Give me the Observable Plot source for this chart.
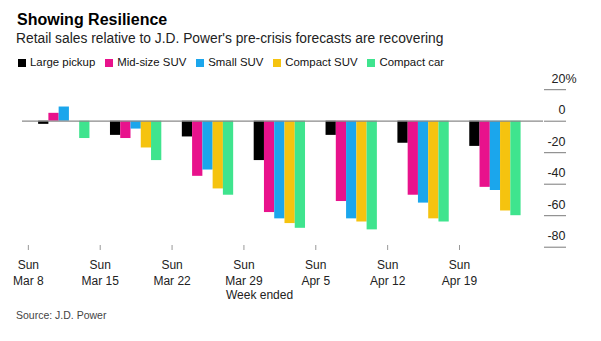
<!DOCTYPE html>
<html>
<head>
<meta charset="utf-8">
<script src="https://cdn.jsdelivr.net/npm/d3@7"></script>
<script src="https://cdn.jsdelivr.net/npm/@observablehq/plot@0.6"></script>
<style>
  html, body { margin: 0; padding: 0; background: #fff; }
  body { width: 601px; height: 341px; position: relative; overflow: hidden; font-family: "Liberation Sans", Arial, sans-serif; }
  #title { position: absolute; left: 17px; top: 12px; font-size: 16px; font-weight: bold; line-height: 1; color: #000; }
  #subtitle { position: absolute; left: 16px; top: 32px; font-size: 13.8px; line-height: 1; color: #222; }
  #legend { position: absolute; left: 18px; top: 57px; display: flex; gap: 10px; font-size: 11.4px; line-height: 1; color: #111; }
  #legend .item { display: flex; align-items: center; }
  #legend .sw { width: 8px; height: 8px; margin-right: 4px; display: inline-block; }
  #chart { position: absolute; left: 0; top: 72px; }
  #source { position: absolute; left: 16px; top: 310px; font-size: 10.5px; line-height: 1; color: #444; }
</style>
</head>
<body>
<div id="title">Showing Resilience</div>
<div id="subtitle">Retail sales relative to J.D. Power's pre-crisis forecasts are recovering</div>
<div id="legend"></div>
<div id="chart"></div>
<div id="source">Source: J.D. Power</div>
<script>
// ---- data ----
const weeks = ["2020-03-08", "2020-03-15", "2020-03-22", "2020-03-29", "2020-04-05", "2020-04-12", "2020-04-19"];
const seriesNames = ["Large pickup", "Mid-size SUV", "Small SUV", "Compact SUV", "Compact car"];
const seriesColors = ["#000000", "#e8128c", "#1ba6ec", "#f5c30f", "#3fe48e"];
const largePickup = [-2, -9, -10, -25, -9, -14, -16];
const midSizeSUV  = [5, -11, -35, -58, -51, -47, -42];
const smallSUV    = [9, -5, -31, -62, -62, -52, -44];
const compactSUV  = [0, -17, -43, -65, -64, -62, -57];
const compactCar  = [-11, -25, -47, -68, -69, -64, -60];
const yTicks = [-80, -60, -40, -20, 0, 20];
const xLabel = "Week ended";

const seriesValues = [largePickup, midSizeSUV, smallSUV, compactSUV, compactCar];
const weekDates = weeks.map(d => new Date(d + "T00:00:00Z"));
const DAY = 864e5;

const rows = [];
seriesNames.forEach((name, k) => {
  weekDates.forEach((date, i) => {
    rows.push({
      series: name,
      value: seriesValues[k][i],
      start: new Date(+date + (1 + k) * DAY),
      end: new Date(+date + (2 + k) * DAY)
    });
  });
});

// legend
const legend = document.getElementById("legend");
seriesNames.forEach((name, k) => {
  const item = document.createElement("span");
  item.className = "item";
  const sw = document.createElement("span");
  sw.className = "sw";
  sw.style.background = seriesColors[k];
  item.appendChild(sw);
  item.appendChild(document.createTextNode(name));
  legend.appendChild(item);
});

const chart = Plot.plot({
  width: 601,
  height: 232,
  marginLeft: 22,
  marginRight: 58,
  marginTop: 10,
  marginBottom: 59,
  style: { fontFamily: "Liberation Sans, Arial, sans-serif", fontSize: "12px", color: "#222", background: "#fff" },
  x: { type: "utc", domain: [weekDates[0], weekDates[weekDates.length - 1]], range: [27.85, 459] },
  y: { domain: [-80, 20], range: [174.7, 17.2] },
  color: { domain: seriesNames, range: seriesColors },
  marks: [
    Plot.rectY(rows, { x1: "start", x2: "end", y: "value", fill: "series", inset: 0 }),
    Plot.ruleY([0], { stroke: "#8a8a8a", strokeWidth: 1.2 }),
    Plot.axisX({ ticks: weekDates, tickFormat: d3.utcFormat("%a\n%b %-d"), tickSize: 5, tickPadding: 7, stroke: "#999", lineHeight: 1.35, label: null, fontSize: 12 }),
    Plot.axisY({ anchor: "right", ticks: yTicks, tickSize: 22, tickFormat: () => "", stroke: "#7a7a7a", label: null }),
    Plot.axisY({ anchor: "right", ticks: yTicks, tickSize: 0, tickPadding: 22, textAnchor: "end", dy: -11, tickFormat: d => String(d), label: null, fontSize: 12.5 }),
    Plot.text([20], { y: d => d, text: () => "%", frameAnchor: "right", dx: 22, dy: -11, textAnchor: "start", fontSize: 12.5, fill: "#222" }),
    Plot.text([xLabel], { frameAnchor: "bottom", dx: -23.5, dy: 50, lineAnchor: "middle", fontSize: 12, fill: "#222" })
  ]
});
document.getElementById("chart").appendChild(chart);
</script>
</body>
</html>
